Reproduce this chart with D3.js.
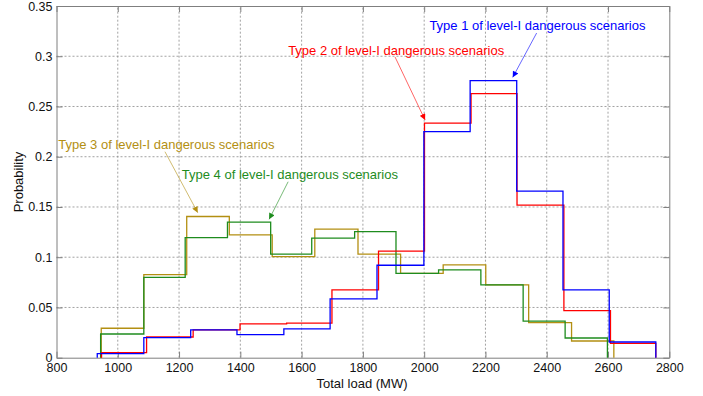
<!DOCTYPE html>
<html>
<head>
<meta charset="utf-8">
<script src="https://cdn.jsdelivr.net/npm/d3@7"></script>
<style>
  body { margin: 0; background: #fff; }
  svg { font-family: "Liberation Sans", Arial, sans-serif; }
</style>
</head>
<body>
<div id="chart"></div>
<script>
const width = 703;
const height = 396;
const margin = {left: 56.5, right: 33.7, top: 6, bottom: 38.3};

// bin edges (MW) and probabilities
const type1Edges = [933, 1085, 1238, 1389, 1542, 1693, 1846, 1999, 2150, 2302, 2453, 2604, 2756];
const type1Probs = [0.004, 0.020, 0.0276, 0.023, 0.0286, 0.0585, 0.092, 0.225, 0.2757, 0.1657, 0.0674, 0.0156];

const type2Edges = [947, 1094, 1246, 1399, 1551, 1699, 1851, 2001, 2153, 2303, 2456, 2608, 2756];
const type2Probs = [0.005, 0.0206, 0.0276, 0.0336, 0.0345, 0.0675, 0.106, 0.2335, 0.2627, 0.1518, 0.0468, 0.0143];

const type3Edges = [946, 1085, 1225, 1364, 1504, 1643, 1784, 1923, 2062, 2201, 2341, 2481, 2619];
const type3Probs = [0.0293, 0.0827, 0.1405, 0.1222, 0.1006, 0.128, 0.103, 0.084, 0.0923, 0.0724, 0.0349, 0.0166];

const type4Edges = [944, 1085, 1220, 1358, 1499, 1633, 1773, 1908, 2047, 2185, 2323, 2460, 2598];
const type4Probs = [0.0236, 0.080, 0.1195, 0.1349, 0.103, 0.119, 0.1255, 0.084, 0.0874, 0.0724, 0.0363, 0.0196];

const xTicks = [800, 1000, 1200, 1400, 1600, 1800, 2000, 2200, 2400, 2600, 2800];
const yTicks = [0, 0.05, 0.1, 0.15, 0.2, 0.25, 0.3, 0.35];

// annotation: label, colour, text start [MW, prob], arrow from / to [MW, prob]
const notes = [
  {text: "Type 1 of level-I dangerous scenarios", color: "#0000ff", at: [2017, 0.3261], from: [2367, 0.3231], to: [2289, 0.279]},
  {text: "Type 2 of level-I dangerous scenarios", color: "#ff0000", at: [1556, 0.3012], from: [1905, 0.2992], to: [2003, 0.2365]},
  {text: "Type 3 of level-I dangerous scenarios", color: "#b38f12", at: [806, 0.2077], from: [1154, 0.205], to: [1261, 0.1443]},
  {text: "Type 4 of level-I dangerous scenarios", color: "#1e8c1e", at: [1209, 0.1778], from: [1556, 0.1751], to: [1494, 0.1377]}
];

const series = [
  {edges: type3Edges, probs: type3Probs, color: "#b38f12"},
  {edges: type4Edges, probs: type4Probs, color: "#1e8c1e"},
  {edges: type2Edges, probs: type2Probs, color: "#ff0000"},
  {edges: type1Edges, probs: type1Probs, color: "#0000ff"}
];

const svg = d3.select("#chart").append("svg")
  .attr("width", width)
  .attr("height", height);

const x = d3.scaleLinear().domain([800, 2800]).range([margin.left, width - margin.right]);
const y = d3.scaleLinear().domain([0, 0.35]).range([height - margin.bottom, margin.top]);

// grid
svg.append("g").selectAll("line")
  .data(xTicks.slice(1, -1))
  .join("line")
  .attr("x1", d => x(d)).attr("x2", d => x(d))
  .attr("y1", y(0)).attr("y2", y(0.35))
  .attr("stroke", "#8a8a8a").attr("stroke-dasharray", "2,2").attr("stroke-width", 0.8);

svg.append("g").selectAll("line")
  .data(yTicks.slice(1, -1))
  .join("line")
  .attr("x1", x(800)).attr("x2", x(2800))
  .attr("y1", d => y(d)).attr("y2", d => y(d))
  .attr("stroke", "#8a8a8a").attr("stroke-dasharray", "2,2").attr("stroke-width", 0.8);

// axes (MATLAB style: ticks inside, box all round)
const xAxis = svg.append("g")
  .attr("transform", `translate(0,${y(0)})`)
  .call(d3.axisBottom(x).tickValues(xTicks).tickFormat(d3.format("d")).tickSizeInner(-6).tickSizeOuter(0).tickPadding(5));
const yAxis = svg.append("g")
  .attr("transform", `translate(${x(800)},0)`)
  .call(d3.axisLeft(y).tickValues(yTicks).tickFormat(d => String(+d.toFixed(2))).tickSizeInner(-6).tickSizeOuter(0).tickPadding(4));
svg.append("g")
  .attr("transform", `translate(0,${y(0.35)})`)
  .call(d3.axisTop(x).tickValues(xTicks).tickSizeInner(-6).tickSizeOuter(0).tickFormat(""));
svg.append("g")
  .attr("transform", `translate(${x(2800)},0)`)
  .call(d3.axisRight(y).tickValues(yTicks).tickSizeInner(-6).tickSizeOuter(0).tickFormat(""));

svg.selectAll(".domain, .tick line").attr("stroke", "#7f7f7f");
svg.selectAll(".tick text").attr("font-size", 12.5).attr("fill", "#111")
  .attr("font-family", "Liberation Sans, Arial, sans-serif");

// step histograms: rise from 0 at first edge, step across bins, drop to 0 at last edge
const line = d3.line()
  .x(d => x(d[0]))
  .y(d => y(d[1]))
  .curve(d3.curveStepAfter);

series.forEach(s => {
  const n = s.edges.length - 1;
  const pts = [[s.edges[0], 0]]
    .concat(s.probs.map((p, i) => [s.edges[i], p]))
    .concat([[s.edges[n], s.probs[n - 1]], [s.edges[n], 0]]);
  svg.append("path")
    .attr("d", line(pts))
    .attr("fill", "none")
    .attr("stroke", s.color)
    .attr("stroke-width", 1.3);
});

// arrow heads
const defs = svg.append("defs");
notes.forEach((n, i) => {
  defs.append("marker")
    .attr("id", "arr" + i)
    .attr("viewBox", "0 0 10 10")
    .attr("refX", 10).attr("refY", 5)
    .attr("markerWidth", 7).attr("markerHeight", 6)
    .attr("markerUnits", "userSpaceOnUse")
    .attr("orient", "auto")
    .append("path")
    .attr("d", "M0,0 L10,5 L0,10 Z")
    .attr("fill", n.color);
});

// annotations
notes.forEach((n, i) => {
  svg.append("line")
    .attr("x1", x(n.from[0])).attr("y1", y(n.from[1]))
    .attr("x2", x(n.to[0])).attr("y2", y(n.to[1]))
    .attr("stroke", n.color).attr("stroke-opacity", 0.6).attr("stroke-width", 1)
    .attr("marker-end", `url(#arr${i})`);
  svg.append("text")
    .attr("x", x(n.at[0])).attr("y", y(n.at[1]))
    .attr("font-size", 13)
    .attr("fill", n.color)
    .text(n.text);
});

// axis titles
svg.append("text")
  .attr("x", 362).attr("y", 388)
  .attr("text-anchor", "middle")
  .attr("font-size", 13)
  .attr("fill", "#111")
  .text("Total load (MW)");

svg.append("text")
  .attr("transform", "translate(23,182) rotate(-90)")
  .attr("text-anchor", "middle")
  .attr("font-size", 13)
  .attr("fill", "#111")
  .text("Probability");
</script>
</body>
</html>
